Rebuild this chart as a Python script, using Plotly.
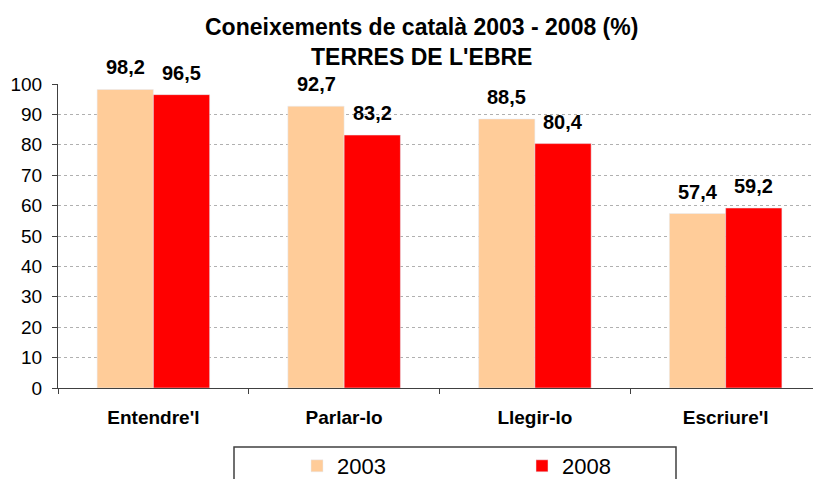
import plotly.graph_objects as go

categories = ["Entendre'l", "Parlar-lo", "Llegir-lo", "Escriure'l"]
v2003 = [98.2, 92.7, 88.5, 57.4]
v2008 = [96.5, 83.2, 80.4, 59.2]
labels2003 = ["98,2", "92,7", "88,5", "57,4"]
labels2008 = ["96,5", "83,2", "80,4", "59,2"]
yticks = [0, 10, 20, 30, 40, 50, 60, 70, 80, 90, 100]

FONT = "Liberation Sans, Arial"
fig = go.Figure()
fig.add_bar(x=categories, y=v2003, name="2003", marker_color="#FFCC99")
fig.add_bar(x=categories, y=v2008, name="2008", marker_color="#FF0000")

# value labels, positioned from data with a small offset above the bars
for cat, v, t in zip(categories, v2003, labels2003):
    fig.add_annotation(x=cat, y=v, text=f"<b>{t}</b>", showarrow=False,
                       xshift=-28, yshift=9, yanchor="bottom",
                       font=dict(family=FONT, size=20, color="black"))
for cat, v, t in zip(categories, v2008, labels2008):
    fig.add_annotation(x=cat, y=v, text=f"<b>{t}</b>", showarrow=False,
                       xshift=28, yshift=9, yanchor="bottom",
                       font=dict(family=FONT, size=20, color="black"))

# title lines
fig.add_annotation(xref="paper", yref="paper", x=0.476, y=1.0, yshift=57,
                   text="<b>Coneixements de català 2003 - 2008 (%)</b>",
                   showarrow=False, yanchor="middle",
                   font=dict(family=FONT, size=23, color="black"))
fig.add_annotation(xref="paper", yref="paper", x=0.476, y=1.0, yshift=27,
                   text="<b>TERRES DE L'EBRE</b>",
                   showarrow=False, yanchor="middle",
                   font=dict(family=FONT, size=23, color="black"))

# legend frame
fig.add_shape(type="rect", xref="paper", yref="paper",
              x0=(234 - 58) / 763, x1=(676 - 58) / 763,
              y0=(388 - 447) / 304, y1=-0.5,
              line=dict(color="#404040", width=1.5), fillcolor="rgba(0,0,0,0)")

fig.update_layout(
    width=821, height=479,
    margin=dict(l=50, r=8, t=76, b=99),
    paper_bgcolor="white", plot_bgcolor="white",
    barmode="group", bargap=0.41, bargroupgap=0,
    font=dict(family=FONT, color="black"),
    showlegend=True,
    legend=dict(orientation="h", xref="container", yref="container",
                x=289 / 821, xanchor="left",
                y=(479 - 437) / 479, yanchor="top",
                borderwidth=0, entrywidth=180, bgcolor="rgba(0,0,0,0)",
                font=dict(size=22, family=FONT)),
)
fig.update_xaxes(showline=True, linecolor="#404040", linewidth=1, automargin=False,
                 ticks="outside", tickson="boundaries", ticklen=5, tickcolor="#404040",
                 ticklabelstandoff=12,
                 tickfont=dict(size=19, family=FONT),
                 tickprefix="<b>", ticksuffix="</b>")
fig.update_yaxes(range=[0, 100], tickvals=yticks, showline=True, linecolor="#404040",
                 automargin=False,
                 ticks="outside", ticklen=5, tickcolor="#404040",
                 ticklabelstandoff=6,
                 showgrid=True, gridcolor="#B0B0B0", griddash="dot", gridwidth=1,
                 tickfont=dict(size=19, family=FONT), zeroline=False)
fig.write_html("out.html")
